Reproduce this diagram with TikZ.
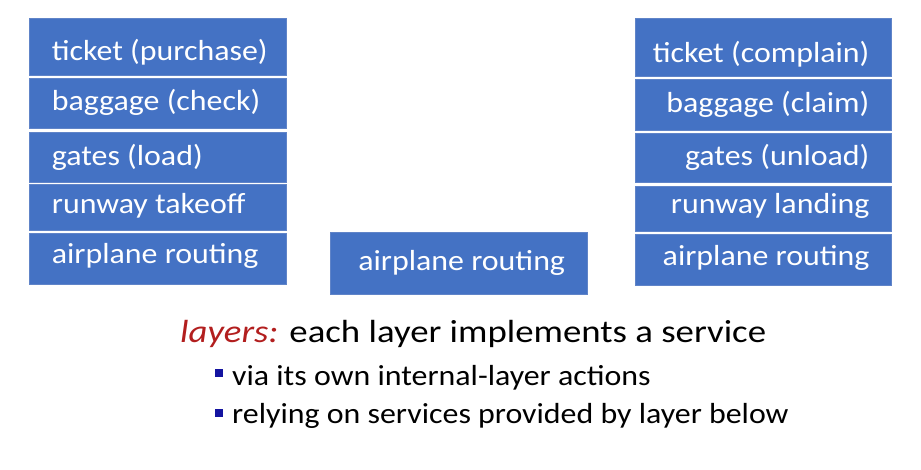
\documentclass[tikz,border=0pt]{standalone}
\usepackage{fontspec}
\setmainfont{Carlito}[FakeStretch=1.1]
\newfontfamily\titlefont{Carlito}[FakeStretch=1.15]
\newcommand{\lbtext}[1]{\makebox[212pt][l]{#1}}
\newcommand{\rbtext}[1]{\makebox[212pt][r]{#1}}
\definecolor{boxblue}{RGB}{68,114,196}
\definecolor{boxedge}{RGB}{96,132,200}
\definecolor{layred}{RGB}{178,30,30}
\definecolor{bulletblue}{RGB}{20,20,160}
\begin{document}
\begin{tikzpicture}[x=1pt,y=-1pt,
  layerbox/.style={draw=boxedge, line width=0.8pt, fill=boxblue, text=white,
    font=\fontsize{29}{31}\selectfont, anchor=north west, inner ysep=0pt,
    text height=20pt, text depth=6pt},
  leftbox/.style={layerbox, inner xsep=22.5pt},
  rightbox/.style={layerbox, inner xsep=22pt},
  midbox/.style={layerbox, inner xsep=28pt},
  bulletsq/.style={fill=bulletblue, minimum size=8pt, inner sep=0pt},
  bodytext/.style={anchor=base west, inner sep=0pt, font=\fontsize{29}{31}\selectfont}
]
\useasboundingbox (0,0) rectangle (921,469);
% left stack
\node[leftbox, minimum height=57pt, text height=33pt] (l1) at (29,18) {\lbtext{ticket (purchase)}};
\node[leftbox, minimum height=50pt, text height=20pt] (l2) at (29,78) {\lbtext{baggage (check)}};
\node[leftbox, minimum height=50pt, text height=22pt] (l3) at (29,132) {\lbtext{gates (load)}};
\node[leftbox, minimum height=46pt, text height=18pt] (l4) at (29,184) {\lbtext{runway takeoff}};
\node[leftbox, minimum height=51pt, text height=15pt] (l5) at (29,233) {\lbtext{airplane routing}};
% middle
\node[midbox, minimum height=62pt, text height=20pt] (m1) at (330,232) {\makebox[201pt][l]{airplane routing}};
% right stack
\node[rightbox, minimum height=58pt, text height=36pt] (r1) at (635,18) {\rbtext{ticket (complain)}};
\node[rightbox, minimum height=51pt, text height=21pt] (r2) at (635,79) {\rbtext{baggage (claim)}};
\node[rightbox, minimum height=49pt, text height=21pt] (r3) at (635,133) {\rbtext{gates (unload)}};
\node[rightbox, minimum height=45pt, text height=15pt] (r4) at (635,186) {\rbtext{runway landing}};
\node[rightbox, minimum height=51pt, text height=17pt] (r5) at (635,234) {\rbtext{airplane routing}};
% text
\node[bodytext, font=\titlefont\fontsize{32}{34}\selectfont] (title) at (180,342)
  {\textcolor{layred}{\itshape layers:} each layer implements a service};
\node[bulletsq] (b1) at (219,373) {};
\node[bodytext] (t1) at (232,385) {via its own internal-layer actions};
\node[bulletsq] (b2) at (219,412.5) {};
\node[bodytext] (t2) at (232,423) {relying on services provided by layer below};
\end{tikzpicture}
\end{document}
